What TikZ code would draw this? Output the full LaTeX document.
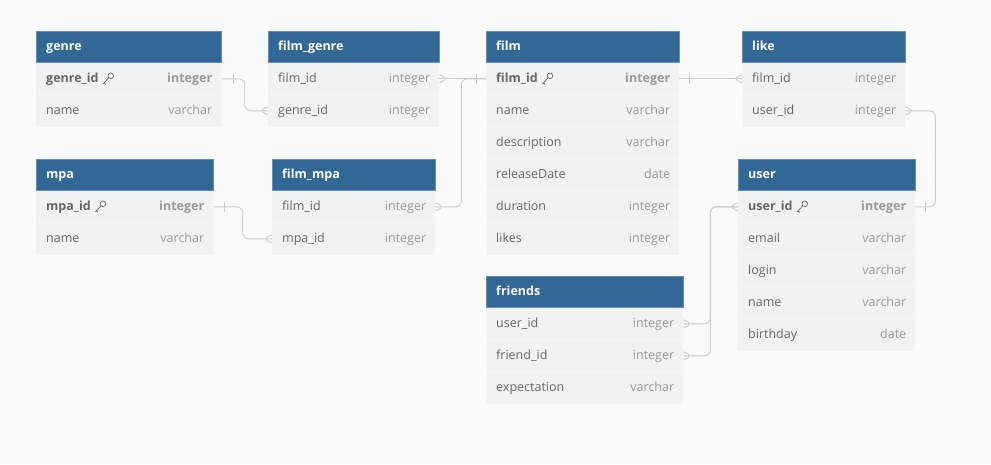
\documentclass[tikz,border=0pt]{standalone}
\usepackage{fontspec}
\setmainfont{Open Sans}
\usepackage{tikz}
\usetikzlibrary{positioning,calc}

\definecolor{hdrblue}{HTML}{316896}
\definecolor{rowgray}{HTML}{F2F2F2}
\definecolor{bggray}{HTML}{FAFAFA}
\definecolor{fldtext}{HTML}{666666}
\definecolor{typetext}{HTML}{999999}
\definecolor{linkgray}{HTML}{CCCCCC}

\tikzset{
  hdr/.style={fill=hdrblue, draw=hdrblue!75!white, line width=0.6pt, minimum height=31pt, inner sep=0pt, anchor=north west},
  hdrtext/.style={text=white, font=\fontsize{12.5}{15}\selectfont\bfseries, anchor=west, inner sep=0pt, text height=9.5pt, text depth=3pt},
  row/.style={fill=rowgray, minimum height=32pt, inner sep=0pt, anchor=north west},
  rowsep/.style={draw=white!40!rowgray, line width=0.6pt},
  fld/.style={text=fldtext, anchor=west, inner sep=0pt, text height=9.5pt, text depth=3pt},
  typ/.style={text=typetext, anchor=east, inner sep=0pt, text height=9.5pt, text depth=3pt},
  link/.style={draw=linkgray, line width=0.9pt, rounded corners=6pt},
  crow/.pic={\draw[link] (0,-4) -- (9,0) -- (0,4);},
  onebar/.pic={\draw[link] (0,-5) -- (0,5);},
  keyicon/.pic={\draw[fldtext, line width=0.7pt] (8,-3) circle (2.8) (6,-1) -- (0.5,5) (1.5,4) -- (3,5.5);}
}

% one table: name, x, y, width, title, rows
\newcommand{\dbtable}[6]{%
  \node[hdr, minimum width=#4pt] (#1) at (#2,#3) {};
  \node[hdrtext] (#1-h) at ([xshift=10pt]#1.west) {#5};
  \foreach [count=\i] \f/\t in {#6} {
    \node[row, minimum width=#4pt] (#1-\i) at ($(#1.south west)+(0,{32*(\i-1)})$) {};
    \ifnum\i>1 \draw[rowsep] (#1-\i.north west) -- (#1-\i.north east); \fi
    \node[fld] (#1-\i-f) at ([xshift=10pt]#1-\i.west) {\f};
    \node[typ] (#1-\i-t) at ([xshift=-9pt]#1-\i.east) {\t};
  }%
}

\begin{document}
\begin{tikzpicture}[x=1pt, y=-1pt, font=\fontsize{12.5}{15}\selectfont]
  \fill[bggray] (0,0) rectangle (991,464);
  \useasboundingbox (0,0) rectangle (991,464);

  % top row
  \dbtable{genre}{36}{31}{185}{genre}{{\textbf{genre\_id}}/{\textbf{integer}}, name/varchar}
  \dbtable{filmgenre}{268}{31}{171}{film\_genre}{film\_id/integer, genre\_id/integer}
  \dbtable{film}{486}{31}{193}{film}{{\textbf{film\_id}}/{\textbf{integer}}, name/varchar, description/varchar, releaseDate/date, duration/integer, likes/integer}
  \dbtable{like}{742}{31}{163}{like}{film\_id/integer, user\_id/integer}

  % middle row
  \dbtable{mpa}{36}{159}{177}{mpa}{{\textbf{mpa\_id}}/{\textbf{integer}}, name/varchar}
  \dbtable{filmmpa}{272}{159}{163}{film\_mpa}{film\_id/integer, mpa\_id/integer}
  \dbtable{user}{738}{159}{177}{user}{{\textbf{user\_id}}/{\textbf{integer}}, email/varchar, login/varchar, name/varchar, birthday/date}

  % bottom
  \dbtable{friends}{486}{276}{197}{friends}{user\_id/integer, friend\_id/integer, expectation/varchar}

  % key icons
  \foreach \t in {genre, film, mpa, user}
    \pic at ([xshift=4pt]\t-1-f.east) {keyicon};

  % links
  \draw[link] (genre-1.east) -| ($(genre-1.east)!0.5!(filmgenre-2.west)$) |- (filmgenre-2.west);
  \draw[link] (filmgenre-1.east) -- (film-1.west);
  \draw[link] (filmmpa-1.east) -- ++(26,0) |- (film-1.west);
  \draw[link] (mpa-1.east) -| ($(mpa-1.east)!0.5!(filmmpa-2.west)$) |- (filmmpa-2.west);
  \draw[link] (film-1.east) -- (like-1.west);
  \draw[link] (like-2.east) -- ++(30,0) |- (user-1.east);
  \draw[link] (friends-1.east) -- ++(27,0) |- (user-1.west);
  \draw[link] (friends-2.east) -- ++(27,0) |- (user-1.west);

  % many ends
  \pic[rotate=180] at (filmgenre-2.west) {crow};
  \pic at (filmgenre-1.east) {crow};
  \pic at (filmmpa-1.east) {crow};
  \pic[rotate=180] at (filmmpa-2.west) {crow};
  \pic[rotate=180] at (like-1.west) {crow};
  \pic at (like-2.east) {crow};
  \pic at (friends-1.east) {crow};
  \pic at (friends-2.east) {crow};
  \pic[rotate=180] at (user-1.west) {crow};

  % one ends
  \pic at ([xshift=12pt]genre-1.east) {onebar};
  \pic at ([xshift=11pt]mpa-1.east) {onebar};
  \pic at ([xshift=-10pt]film-1.west) {onebar};
  \pic at ([xshift=10pt]film-1.east) {onebar};
  \pic at ([xshift=10pt]user-1.east) {onebar};
\end{tikzpicture}
\end{document}
